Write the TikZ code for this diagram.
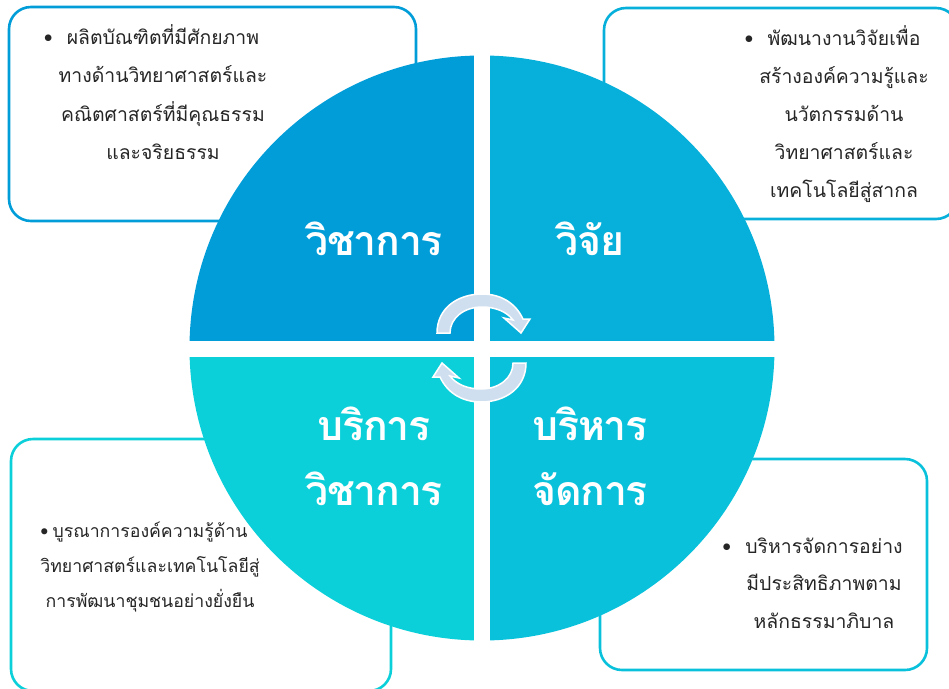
\documentclass[tikz,border=0pt]{standalone}
\usepackage{fontspec}
\newfontfamily\thaifont[Script=Thai]{Loma}
\newfontfamily\thaihead[Script=Thai,LetterSpace=-3]{Loma}
\definecolor{cA}{HTML}{009DD9}
\definecolor{cB}{HTML}{07B0DA}
\definecolor{cC}{HTML}{0BD0D9}
\definecolor{cD}{HTML}{0AC1DC}
\definecolor{arrowfill}{HTML}{CFDFF0}
\tikzset{
  infobox/.style={draw=#1,line width=2.6pt,rounded corners=22pt,fill=white},
  bodytext/.style={align=center,text=black!85,font=\thaifont\fontsize{19.4}{#1}\selectfont,inner sep=0pt},
  smalltext/.style={align=center,text=black!85,font=\thaifont\fontsize{17.7}{#1}\selectfont,inner sep=0pt},
  headtext/.style={align=center,text=white,font=\thaihead\bfseries\fontsize{41}{65}\selectfont,inner sep=0pt},
  cyclearrow/.style={fill=arrowfill,draw=white,line width=1.5pt,line join=miter},
}
\newcommand{\bul}{\llap{•\hspace{14pt}}}
\begin{document}
\begin{tikzpicture}[x=1pt,y=-1pt]
\useasboundingbox (0,0) rectangle (949,688);
\clip (0,0) rectangle (949,688);
% boxes
\draw[infobox=cA] (9,7) rectangle (416,221);
\draw[infobox=cB] (604,8) rectangle (958,219);
\draw[infobox=cC] (11,439) rectangle (391,691);
\draw[infobox=cD] (600,459) rectangle (927,670);
% body texts
\node[bodytext=38.3] (t1) at (163,92) {\bul ผลิตบัณฑิตที่มีศักยภาพ\\ทางด้านวิทยาศาสตร์และ\\คณิตศาสตร์ที่มีคุณธรรม\\และจริยธรรม};
\node[bodytext=38] (t2) at (844,114) {\bul พัฒนางานวิจัยเพื่อ\\สร้างองค์ความรู้และ\\นวัตกรรมด้าน\\วิทยาศาสตร์และ\\เทคโนโลยีสู่สากล};
\node[smalltext=35] (t3) at (150,567) {\llap{•\hspace{4pt}}บูรณาการองค์ความรู้ด้าน\\วิทยาศาสตร์และเทคโนโลยีสู่\\การพัฒนาชุมชนอย่างยั่งยืน};
\node[bodytext=37.5] (t4) at (824,583) {\bul บริหารจัดการอย่าง\\มีประสิทธิภาพตาม\\หลักธรรมาภิบาล};
% pie quadrants
\begin{scope}
\clip (482,348) circle (292.5);
\fill[cA] (150,20) rectangle (474,341);
\fill[cB] (490,20) rectangle (800,341);
\fill[cC] (150,357) rectangle (474,670);
\fill[cD] (490,357) rectangle (800,670);
\end{scope}
% heads
\node[headtext] (h1) at (374,239) {วิชาการ};
\node[headtext] (h2) at (590,239) {วิจัย};
\node[headtext] (h3) at (374,456) {บริการ\\วิชาการ};
\node[headtext] (h4) at (590,456) {บริหาร\\จัดการ};
% cycle arrows
\draw[cyclearrow] (437,333) .. controls (437,308) and (458,294) .. (482,294)
  .. controls (502,294) and (516,304) .. (523,319) -- (530,319) -- (521,333) -- (504,318) -- (513,320)
  .. controls (507,312) and (496,307) .. (482,307) .. controls (464,307) and (450,318) .. (450,333) -- cycle;
\draw[cyclearrow,rotate around={180:(481.5,348)}] (437,333) .. controls (437,308) and (458,294) .. (482,294)
  .. controls (502,294) and (516,304) .. (523,319) -- (530,319) -- (521,333) -- (504,318) -- (513,320)
  .. controls (507,312) and (496,307) .. (482,307) .. controls (464,307) and (450,318) .. (450,333) -- cycle;
\end{tikzpicture}
\end{document}
